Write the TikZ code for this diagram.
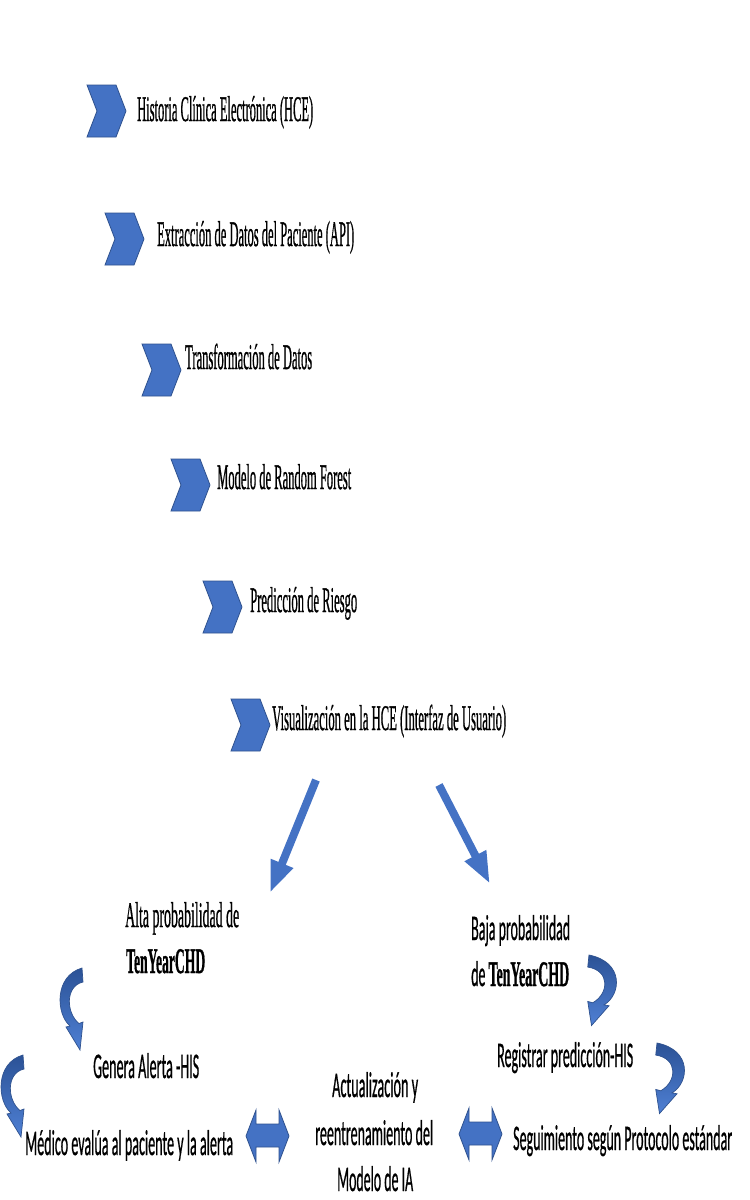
\documentclass[tikz,border=0pt]{standalone}
\usepackage{fontspec}
\setmainfont[RawFeature={embolden=1.2}]{Liberation Serif}
\newfontfamily\calfont[RawFeature={embolden=1}]{Carlito}
\usepackage{graphicx}
\usetikzlibrary{arrows.meta}
\definecolor{ofblue}{HTML}{4472C4}
\definecolor{ofline}{HTML}{2F528F}
\definecolor{ofdark}{HTML}{2B5296}
\definecolor{oflight}{HTML}{4F80D4}
\newcommand{\tx}[2]{\resizebox{#1pt}{\height}{#2}}
\tikzset{
  chevshape/.style={fill=ofblue, draw=ofline, line width=0.8pt, line join=miter},
  sertext/.style={anchor=base west, inner sep=0pt, font=\fontsize{36}{42}\selectfont},
  sanstext/.style={anchor=base west, inner sep=0pt, font=\calfont\fontsize{36}{42}\selectfont},
  diagarrow/.style={draw=ofblue, line width=8pt, -{Triangle[length=32pt,width=22pt]}},
  dblshape/.style={fill=ofblue, draw=ofline, line width=0.8pt},
  curvshape/.style={top color=ofdark, bottom color=oflight, draw=ofline, line width=0.7pt},
  pics/chev/.style={code={
    \path[chevshape] (0,0) -- (29,0) -- (39,26) -- (29,52) -- (0,52) -- (10,26) -- cycle;}},
  pics/carrow/.style={code={
    \path[curvshape] (0,0) .. controls (-28,8) and (-26,46) .. (-12,58)
      -- (-16,59) -- (-2,82) -- (1,54) -- (-3,55.5)
      .. controls (-16,45) and (-17,18) .. (1,14) -- cycle;}},
  pics/dblarrow/.style={code={
    \path[dblshape] (0,0) -- (10,-26) -- (10,-12) -- (33,-12) -- (33,-26) -- (43,0)
      -- (33,26) -- (33,11) -- (10,11) -- (10,26) -- cycle;}}
}
\begin{document}
\begin{tikzpicture}[x=1pt,y=-1pt]
\useasboundingbox (0,0) rectangle (750,1200);
\fill[white] (0,0) rectangle (750,1200);

% chevrons
\pic at (87,85) {chev};
\pic at (105,213) {chev};
\pic at (142,344) {chev};
\pic at (171,459) {chev};
\pic at (203,581) {chev};
\pic at (231,699) {chev};

% step texts
\node[sertext] (hce) at (137,121) {\tx{176}{Historia Clínica Electrónica (HCE)}};
\node[sertext] (ext) at (157,246) {\tx{197}{Extracción de Datos del Paciente (API)}};
\node[sertext] (tra) at (185,369) {\tx{127}{Transformación de Datos}};
\node[sertext] (mod) at (217,489) {\tx{134}{Modelo de Random Forest}};
\node[sertext] (pre) at (250,612) {\tx{107}{Predicción de Riesgo}};
\node[sertext] (vis) at (272,730) {\tx{234}{Visualización en la HCE (Interfaz de Usuario)}};

% diagonal arrows
\coordinate (dL1) at (316,780);
\coordinate (dL2) at (270,893);
\coordinate (dR1) at (439,785);
\coordinate (dR2) at (490,884);
\draw[diagarrow] (dL1) -- (dL2);
\draw[diagarrow] (dR1) -- (dR2);

% branch texts
\node[sertext] (alta1) at (125,927) {\tx{114}{Alta probabilidad de}};
\node[sertext] (alta2) at (126,973) {\tx{79}{\bfseries TenYearCHD}};
\node[sanstext] (baja1) at (471,940) {\tx{99}{Baja probabilidad}};
\node[sanstext] (baja2) at (471,986) {\tx{98}{de \rmfamily\bfseries TenYearCHD}};

\node[sanstext] (gen) at (93,1078) {\tx{106}{Genera Alerta -HIS}};
\node[sanstext] (med) at (25,1155) {\tx{208}{Médico evalúa al paciente y la alerta}};
\node[sanstext] (act1) at (332,1097) {\tx{86}{Actualización y}};
\node[sanstext] (act2) at (315,1145) {\tx{118}{reentrenamiento del}};
\node[sanstext] (act3) at (337,1191) {\tx{76}{Modelo de IA}};
\node[sanstext] (reg) at (497,1067) {\tx{136}{Registrar predicción-HIS}};
\node[sanstext] (seg) at (513,1150) {\tx{219}{Seguimiento según Protocolo estándar}};

% curved arrows
\pic at (82,968) {carrow};
\pic at (23,1055) {carrow};
\pic[xscale=-1.25,yscale=0.86] at (589,955) {carrow};
\pic[xscale=-1.25,yscale=0.86] at (657,1043) {carrow};

% double arrows
\pic at (246,1136) {dblarrow};
\pic at (459,1134) {dblarrow};
\end{tikzpicture}
\end{document}
